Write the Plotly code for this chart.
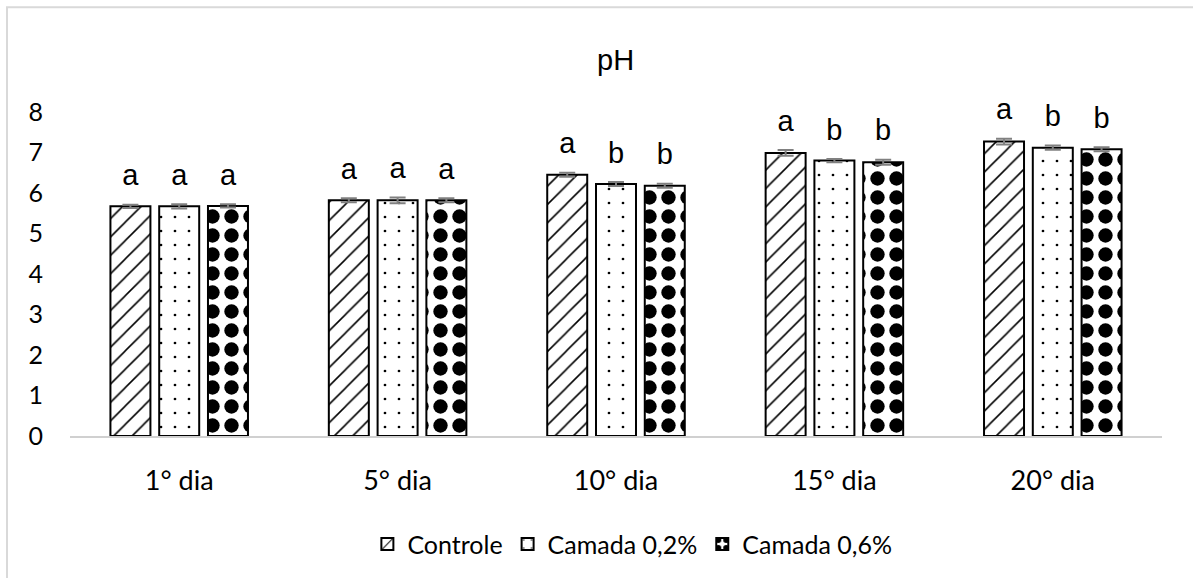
import plotly.graph_objects as go

categories = ["1° dia", "5° dia", "10° dia", "15° dia", "20° dia"]
series_names = ["Controle", "Camada 0,2%", "Camada 0,6%"]
controle = [5.67, 5.82, 6.45, 6.99, 7.27]
camada02 = [5.67, 5.82, 6.22, 6.80, 7.12]
camada06 = [5.68, 5.82, 6.18, 6.76, 7.08]
err_controle = [0.04, 0.05, 0.05, 0.07, 0.07]
err_camada02 = [0.05, 0.07, 0.05, 0.04, 0.05]
err_camada06 = [0.04, 0.05, 0.05, 0.06, 0.05]
letters_controle = ["a", "a", "a", "a", "a"]
letters_camada02 = ["a", "a", "b", "b", "b"]
letters_camada06 = ["a", "a", "b", "b", "b"]

values = [controle, camada02, camada06]
errors = [err_controle, err_camada02, err_camada06]
letters = [letters_controle, letters_camada02, letters_camada06]
patterns = [
    dict(shape="/", fgcolor="black", bgcolor="white", fgopacity=1, size=13, solidity=0.12),
    dict(shape=".", fgcolor="black", bgcolor="white", fgopacity=1, size=14, solidity=0.03),
    dict(shape=".", fgcolor="black", bgcolor="white", fgopacity=1, size=19, solidity=0.45),
]

fig = go.Figure()
for i in range(3):
    fig.add_trace(go.Bar(
        x=categories, y=values[i], name=series_names[i],
        offsetgroup=str(i),
        marker=dict(color="white", line=dict(color="black", width=2), pattern=patterns[i]),
        error_y=dict(type="data", array=errors[i], color="#808080", thickness=2, width=8),
    ))
for i in range(3):
    fig.add_trace(go.Scatter(
        x=categories, y=[v + e + 0.3 for v, e in zip(values[i], errors[i])],
        text=letters[i], mode="text", textposition="top center",
        offsetgroup=str(i), showlegend=False, hoverinfo="skip", cliponaxis=False,
        textfont=dict(family="Liberation Sans, Arial", size=29, color="black"),
    ))

fig.update_layout(
    width=1193, height=578,
    margin=dict(l=70, r=31, t=112, b=141),
    paper_bgcolor="white", plot_bgcolor="white",
    barmode="group", bargap=0.33, bargroupgap=0.18,
    scattermode="group", scattergap=0.33,
    title=dict(text="pH", x=0.516, xanchor="center", y=0.897, yanchor="middle",
               font=dict(family="Liberation Sans, Arial", size=29, color="black")),
    font=dict(family="Lato, Noto Sans", size=25, color="black"),
    xaxis=dict(showline=True, linecolor="#d0d0d0", linewidth=1.5, ticks="",
               tickfont=dict(size=27), showgrid=False, automargin=False,
               ticklabelstandoff=20),
    yaxis=dict(range=[0, 8], dtick=1, showgrid=False, showline=False, zeroline=False,
               ticks="", tickfont=dict(size=25), ticklabelstandoff=26, automargin=False),
    legend=dict(orientation="h", x=0.515, xanchor="center", y=-0.33, yanchor="middle",
                font=dict(size=25), traceorder="normal"),
    showlegend=True,
    shapes=[dict(type="rect", xref="paper", yref="paper", x0=-0.0577, x1=1.06,
                 y0=-0.5, y1=1.323, line=dict(color="#d9d9d9", width=2))],
)

fig.write_html("out.html", config={"displayModeBar": False},
               post_script="document.body.style.margin='0px';")
